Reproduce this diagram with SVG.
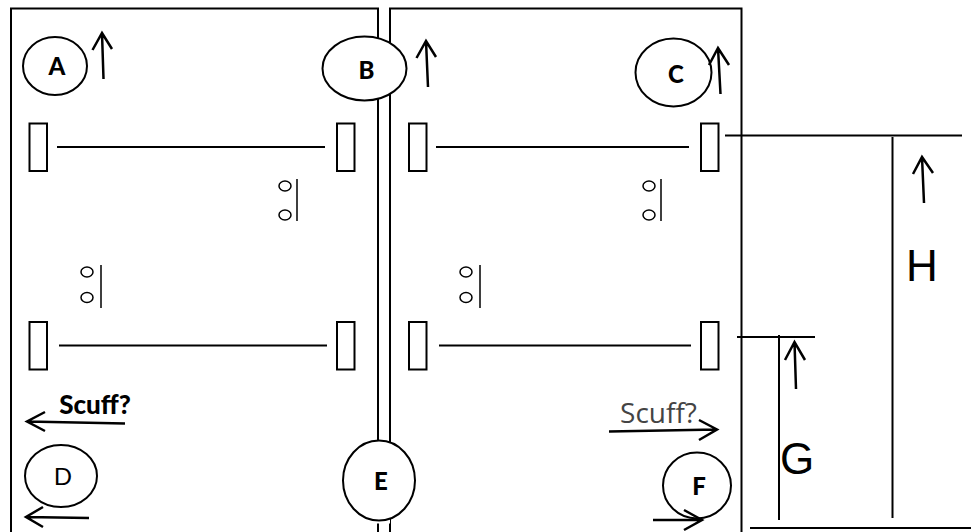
<svg xmlns="http://www.w3.org/2000/svg" width="971" height="532" viewBox="0 0 971 532">
<style>
.l{fill:none;stroke:#000;stroke-width:2}
.t{fill:none;stroke:#000;stroke-width:1.5}
.n{fill:#fff;stroke:#000;stroke-width:2}
.a{fill:none;stroke:#000;stroke-width:2.5}
.b{font-family:Lato,"Liberation Sans",sans-serif;font-weight:900;font-size:24px;fill:#000;text-anchor:middle}
.c{font-family:Lato,"Liberation Sans",sans-serif;font-size:24px;fill:#000;text-anchor:middle}
.h{font-family:"Liberation Sans",Arial,sans-serif;font-size:44px;fill:#000;text-anchor:middle}
</style>
<rect width="971" height="532" fill="#fff"/>
<g id="frames">
<path class="l" d="M11 532V8.500H378V532M390 532V8.500H741.500V532"/>
</g>
<g id="connectors">
<path class="l" d="M57 147H325M436 147H689M59 345.500H327M439 345.500H691"/>
<path class="l" d="M725 135.500H962M892.500 137V518M737 337H815M779 335V520M750 528H971"/>
<path class="t" d="M297 179V221M661 179V221M101 265V308M480 265V308"/>
<path class="a" d="M103.500 79L102 33M92.500 50L102 33L112 49"/>
<path class="a" d="M428 87L426 41M416.500 58L426 41L436 57"/>
<path class="a" d="M924 203L922 157M913 174L922 157L933 173"/>
<path class="a" d="M796 389L794.500 342M785 360L794.500 342L805 360"/>
<path class="a" d="M125 423.500L27 421.500M45 412L27 421.500L45 431"/>
<path class="a" d="M89 518L26 517M43 507L26 517L43 527"/>
<path class="a" d="M609 431.500L717 429.500M699 420L717 429.500L699 440"/>
</g>
<g id="posts">
<g class="l">
<rect x="29.500" y="123.500" width="17.500" height="47.500"/><rect x="337" y="123.500" width="17.500" height="47.500"/>
<rect x="409" y="123.500" width="17.500" height="47.500"/><rect x="701" y="123.500" width="17.500" height="47.500"/>
<rect x="29.500" y="322" width="17.500" height="47.500"/><rect x="337" y="322" width="17.500" height="47.500"/>
<rect x="409" y="322" width="17.500" height="47.500"/><rect x="701" y="322" width="17.500" height="47.500"/>
</g>
<g class="t">
<ellipse cx="285" cy="186" rx="6" ry="5"/><ellipse cx="285" cy="215" rx="6" ry="5"/>
<ellipse cx="649" cy="186" rx="6" ry="5"/><ellipse cx="649" cy="215" rx="6" ry="5"/>
<ellipse cx="87" cy="272" rx="6" ry="5"/><ellipse cx="87" cy="297.500" rx="6" ry="5"/>
<ellipse cx="466" cy="272" rx="6" ry="5"/><ellipse cx="466" cy="297.500" rx="6" ry="5"/>
</g>
</g>
<g id="node-A"><ellipse class="n" cx="55" cy="66" rx="32" ry="29"/><text class="b" x="57" y="75">A</text></g>
<g id="node-B"><ellipse class="n" cx="364.500" cy="68.500" rx="42" ry="32"/><text class="b" x="366.500" y="79">B</text></g>
<g id="node-C"><ellipse class="n" cx="673.500" cy="72.500" rx="38" ry="34"/><text class="b" x="676" y="83">C</text>
<path class="a" d="M720.500 94L718 48M709 65L718 48L729 65"/></g>
<g id="node-D"><ellipse class="n" cx="61" cy="476" rx="36" ry="31"/><text class="c" x="63" y="485">D</text></g>
<g id="node-E"><rect x="370" y="519" width="20" height="4.500" fill="#fff"/><ellipse class="n" cx="379" cy="480.500" rx="36" ry="40"/><text class="b" x="381" y="490">E</text></g>
<g id="node-F"><ellipse class="n" cx="697" cy="485.500" rx="34" ry="33"/><text class="b" x="699" y="495">F</text>
<path class="a" d="M653 520H702M684 510L702 520L684 530"/></g>
<g id="labels">
<text class="b" x="95" y="414" style="font-size:26px">Scuff?</text>
<text x="658.500" y="423" style="font-family:'Open Sans','Noto Sans',sans-serif;font-size:28px;fill:#444;text-anchor:middle">Scuff?</text>
<text class="h" x="922" y="281">H</text>
<text class="h" x="797" y="474">G</text>
</g>
</svg>
